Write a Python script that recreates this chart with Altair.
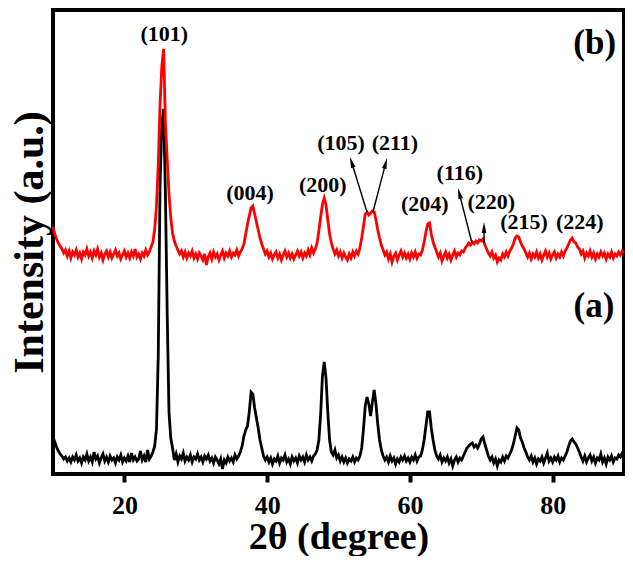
import math
import altair as alt
import pandas as pd

# 2-theta grid: 10 to 90 degrees, 0.25 degree step
theta_start = 10.0
theta_step = 0.25

# (a) black pattern, intensity (arbitrary units)
intensity_a = [
    37, 32, 27, 23, 20, 18, 15, 17, 13, 16, 12, 17, 14, 19, 13, 16, 11, 17, 14, 20,
    13, 17, 12, 22, 15, 18, 11, 16, 20, 13, 17, 12, 18, 14, 16, 11, 17, 14, 19, 12,
    16, 13, 18, 12, 21, 14, 17, 13, 15, 23, 14, 18, 12, 24, 15, 18, 22, 28, 45, 120,
    290, 350, 365, 280, 160, 62, 36, 26, 14, 20, 12, 18, 15, 21, 13, 17, 14, 19, 12, 17,
    15, 20, 14, 17, 12, 18, 15, 19, 13, 16, 11, 17, 14, 10, 15, 5, 14, 11, 17, 13,
    16, 12, 19, 15, 18, 22, 28, 38, 44, 48, 62, 82, 80, 66, 56, 46, 34, 26, 18, 14,
    17, 12, 16, 10, 15, 13, 18, 11, 16, 14, 19, 12, 15, 10, 17, 13, 16, 11, 18, 14,
    17, 12, 19, 14, 17, 13, 18, 20, 24, 34, 60, 98, 112, 96, 62, 34, 22, 19, 24, 16,
    19, 13, 17, 12, 16, 11, 15, 13, 17, 12, 16, 14, 18, 26, 45, 68, 77, 70, 58, 72,
    84, 70, 50, 34, 24, 18, 14, 17, 12, 18, 13, 16, 10, 15, 12, 17, 14, 18, 13, 16,
    12, 17, 14, 19, 13, 17, 18, 24, 34, 48, 62, 62, 46, 34, 24, 18, 15, 19, 12, 16,
    13, 17, 11, 15, 8, 14, 17, 12, 16, 14, 18, 22, 26, 28, 30, 31, 27, 29, 26, 30,
    35, 37, 30, 24, 18, 14, 17, 11, 15, 8, 14, 12, 17, 13, 18, 16, 20, 24, 30, 38,
    46, 44, 36, 32, 26, 22, 17, 14, 18, 12, 16, 10, 15, 13, 17, 11, 16, 21, 13, 16,
    12, 17, 14, 18, 12, 16, 14, 18, 22, 28, 33, 35, 32, 30, 26, 22, 17, 13, 18, 12,
    16, 19, 13, 17, 11, 16, 14, 20, 12, 16, 10, 17, 14, 18, 12, 16, 15, 19, 17, 21,
    20,
]

# (b) red pattern (offset above (a))
intensity_b = [
    247, 240, 235, 231, 228, 225, 221, 224, 218, 223, 216, 222, 219, 224, 217, 221, 215, 222, 219, 225,
    218, 222, 216, 223, 219, 225, 217, 221, 214, 220, 223, 217, 222, 216, 220, 224, 218, 221, 215, 219,
    223, 217, 221, 216, 222, 218, 225, 217, 220, 215, 221, 218, 224, 219, 222, 227, 232, 245, 268, 310,
    370, 408, 425, 350, 315, 280, 256, 241, 233, 228, 224, 220, 223, 217, 222, 216, 221, 218, 223, 216,
    220, 215, 221, 218, 214, 220, 209, 217, 221, 215, 222, 217, 220, 214, 219, 223, 216, 221, 218, 223,
    217, 221, 219, 224, 218, 222, 225, 230, 240, 250, 258, 266, 268, 260, 252, 244, 236, 230, 225, 220,
    223, 217, 221, 215, 219, 222, 216, 220, 214, 219, 223, 217, 221, 216, 220, 215, 219, 223, 218, 222,
    216, 221, 218, 224, 219, 226, 221, 225, 231, 243, 257, 270, 276, 269, 254, 240, 231, 225, 220, 224,
    218, 222, 216, 221, 217, 214, 220, 216, 222, 218, 223, 220, 226, 236, 248, 260, 262, 259, 261, 263,
    262, 254, 244, 236, 229, 224, 219, 222, 215, 220, 212, 218, 221, 214, 219, 223, 217, 221, 216, 220,
    215, 221, 217, 222, 216, 220, 219, 224, 232, 242, 250, 251, 240, 232, 227, 222, 217, 221, 213, 218,
    222, 216, 220, 214, 219, 223, 217, 221, 219, 223, 222, 226, 228, 231, 229, 232, 230, 233, 231, 234,
    233, 235, 229, 225, 221, 218, 222, 216, 219, 212, 216, 214, 220, 217, 222, 218, 223, 226, 230, 236,
    238, 237, 232, 228, 225, 221, 217, 221, 215, 220, 217, 222, 216, 220, 214, 219, 223, 217, 221, 215,
    219, 222, 216, 220, 217, 222, 218, 223, 226, 230, 234, 236, 232, 231, 227, 225, 220, 223, 216, 221,
    218, 223, 217, 221, 215, 220, 217, 222, 218, 221, 215, 220, 217, 222, 216, 220, 218, 222, 219, 223,
    221,
]

# Miller-index labels
peak_labels = ["(101)", "(004)", "(200)", "(105)", "(211)", "(204)", "(116)", "(220)", "(215)", "(224)"]
peak_label_x = [25.6, 37.6, 47.8, 50.35, 57.9, 62.1, 67.0, 71.4, 76.0, 83.8]
peak_label_y = [440, 281, 289, 331, 331, 270, 301, 272, 252, 252]

# sample labels
sample_labels = ["(b)", "(a)"]
sample_x = [85.9, 85.8]
sample_y = [431, 168]

# arrows: tail (x1, y1) -> tip (x2, y2)
arrow_x1 = [53.99, 54.83, 68.70, 70.39]
arrow_y1 = [262, 262, 231, 231]
arrow_x2 = [51.61, 56.80, 66.74, 70.39]
arrow_y2 = [317, 316, 286, 252]

X_DOMAIN = [10, 90]
Y_DOMAIN = [0, 464]
W, H = 571, 464
FONT = "Liberation Serif"

n = len(intensity_a)
theta = [theta_start + theta_step * i for i in range(n)]
df_a = pd.DataFrame({"x": theta, "y": intensity_a})
df_b = pd.DataFrame({"x": theta[: len(intensity_b)], "y": intensity_b})

xscale = alt.Scale(domain=X_DOMAIN, nice=False, zero=False)
yscale = alt.Scale(domain=Y_DOMAIN, nice=False, zero=False)

x_axis = alt.Axis(
    values=[20, 40, 60, 80], title="2θ (degree)", grid=False, domain=False,
    labelFont=FONT, labelFontWeight="bold", labelFontSize=26, labelColor="black",
    labelPadding=10, labelFlush=False,
    tickColor="black", tickWidth=4, tickSize=8,
    titleFont=FONT, titleFontWeight="bold", titleFontSize=38, titleColor="black",
    titlePadding=0,
)
y_axis = alt.Axis(
    labels=False, ticks=False, domain=False, grid=False,
    title="Intensity (a.u.)", titleFont=FONT, titleFontWeight="bold",
    titleFontSize=42, titleColor="black", titlePadding=2,
)


def X(field):
    return alt.X(field, type="quantitative", scale=xscale, axis=x_axis)


def Y(field):
    return alt.Y(field, type="quantitative", scale=yscale, axis=y_axis)


line_a = alt.Chart(df_a).mark_line(color="black", strokeWidth=2.8).encode(x=X("x"), y=Y("y"))
line_b = alt.Chart(df_b).mark_line(color="#ff0000", strokeWidth=2.8).encode(x=X("x"), y=Y("y"))

# arrows
px_per_deg = W / (X_DOMAIN[1] - X_DOMAIN[0])
px_per_unit = H / (Y_DOMAIN[1] - Y_DOMAIN[0])
head_len = 11.0
rows = []
for x1, y1, x2, y2 in zip(arrow_x1, arrow_y1, arrow_x2, arrow_y2):
    dxp = (x2 - x1) * px_per_deg
    dyp = (y2 - y1) * px_per_unit
    L = math.hypot(dxp, dyp)
    ux, uy = dxp / L, dyp / L
    cx = x2 - ux * head_len / 2 / px_per_deg
    cy = y2 - uy * head_len / 2 / px_per_unit
    ang = math.degrees(math.atan2(dxp, dyp)) % 360
    rows.append({"x": x1, "y": y1, "xe": cx, "ye": cy, "cx": cx, "cy": cy, "ang": ang})
df_arr = pd.DataFrame(rows)

arrow_lines = alt.Chart(df_arr).mark_rule(color="black", strokeWidth=1.4).encode(
    x=X("x"), y=Y("y"), x2="xe:Q", y2="ye:Q",
)
arrow_heads = alt.Chart(df_arr).mark_point(
    shape="M0,-1L-0.42,1L0.42,1Z", filled=True, color="black", opacity=1, size=120
).encode(
    x=X("cx"), y=Y("cy"), angle=alt.Angle("ang:Q", scale=None),
)

df_lab = pd.DataFrame({"x": peak_label_x, "y": peak_label_y, "t": peak_labels})
labels = alt.Chart(df_lab).mark_text(
    font=FONT, fontWeight="bold", fontSize=22, color="black", align="center", baseline="middle"
).encode(x=X("x"), y=Y("y"), text="t:N")

df_s = pd.DataFrame({"x": sample_x, "y": sample_y, "t": sample_labels})
samples = alt.Chart(df_s).mark_text(
    font=FONT, fontWeight="bold", fontSize=35, color="black", align="center", baseline="middle"
).encode(x=X("x"), y=Y("y"), text="t:N")

chart = alt.layer(line_a, line_b, arrow_lines, arrow_heads, labels, samples).properties(
    width=W, height=H,
    autosize=alt.AutoSizeParams(type="none"),
    padding={"left": 45, "top": 2, "right": 1, "bottom": 82},
    background="white",
).configure_view(stroke="black", strokeWidth=4)

chart.save("out.html", embed_options={"renderer": "svg", "actions": False})
